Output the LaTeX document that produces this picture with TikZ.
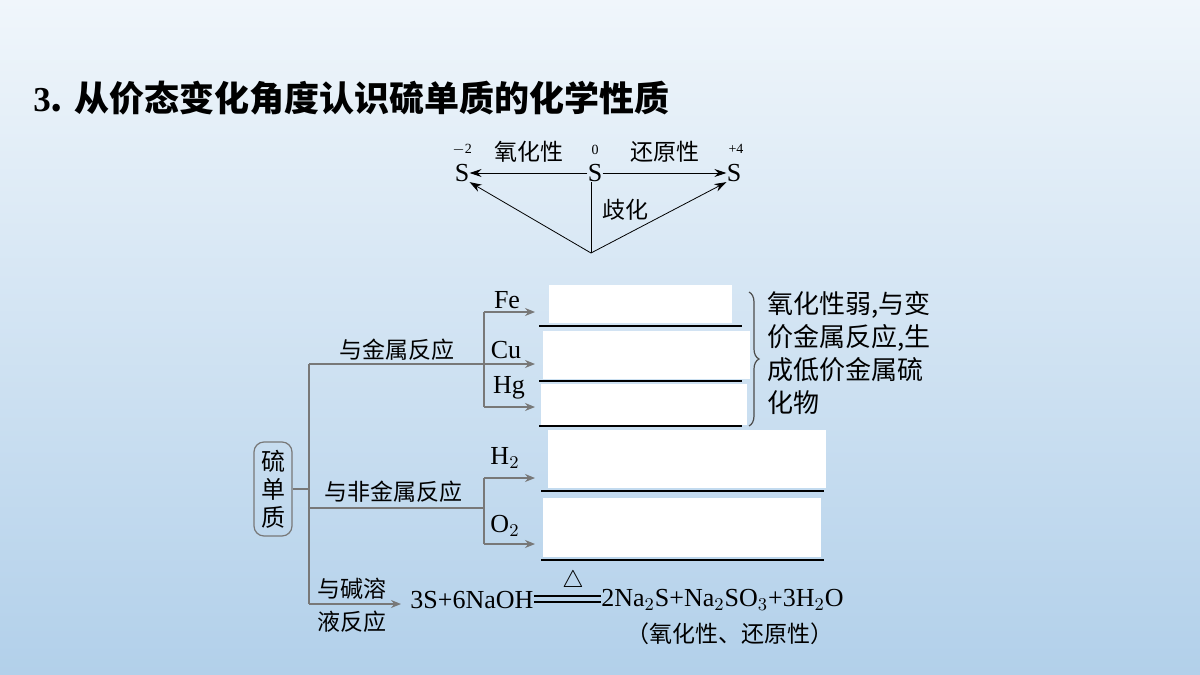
\documentclass[tikz,border=0pt]{standalone}
\usepackage{fontspec}
\setmainfont{Liberation Serif}
\newfontfamily\cjk{Noto Sans CJK SC}
\usetikzlibrary{arrows.meta,decorations.pathreplacing}
\definecolor{treegray}{RGB}{120,120,120}
\definecolor{bgtop}{RGB}{240,246,251}
\definecolor{bgbot}{RGB}{178,208,234}
\tikzset{
  zh/.style={font=\cjk\fontsize{11.5}{13}\selectfont, inner sep=0pt},
  chem/.style={font=\fontsize{13}{15}\selectfont, inner sep=0pt},
  tree/.style={draw=treegray, line width=0.6pt},
  treearrow/.style={tree, -{Stealth[length=5pt,width=4pt]}},
  blank/.style={fill=white, draw=none},
  answerline/.style={line width=0.7pt}
}
\begin{document}
\begin{tikzpicture}[x=0.5pt, y=-0.5pt]
			\shade[top color=bgtop, bottom color=bgbot] (0,0) rectangle (1200,675);
			\useasboundingbox (0,0) rectangle (1200,675);
			% Title
			\node[anchor=west, inner sep=0pt, font=\cjk\bfseries\fontsize{17.5}{19}\selectfont] (title) at (33,98) {{\rmfamily 3}.\,\,从价态变化角度认识硫单质的化学性质};

			% Valence triangle
			\node[chem] (sm) at (462,173) {S};
			\node[chem] (s0) at (595,173) {S};
			\node[chem] (sp) at (734,173) {S};
			\node[font=\fontsize{7}{8}\selectfont] at (462,150) {$-$2};
			\node[font=\fontsize{7}{8}\selectfont] at (595,150) {0};
			\node[font=\fontsize{7}{8}\selectfont] at (736,149) {+4};
			\coordinate (vtx) at (591,253);
			\draw[-{Stealth[length=6pt,width=4pt]}] (s0) -- (sm) node[zh, midway, above=5pt] {氧化性};
			\draw[-{Stealth[length=6pt,width=4pt]}] (s0) -- (sp) node[zh, midway, above=5pt] {还原性};
			\draw (s0.south -| vtx) -- (vtx);
			\draw[-{Stealth[length=6pt,width=4pt]}] (vtx) -- (sm.south east);
			\draw[-{Stealth[length=6pt,width=4pt]}] (vtx) -- (sp.south west);
			\node[zh] (qh) at (625,210) {歧化};

			% Root box
			\node[draw=treegray, rounded corners=5pt, line width=0.6pt, minimum width=19pt, minimum height=47pt, inner sep=1pt, font=\cjk\fontsize{12}{14}\selectfont, align=center] (root) at (273,489) {硫\\单\\质};

			% Tree coordinates
			\coordinate (stem) at (309,489);
			\coordinate (top) at (309,364);
			\coordinate (bot) at (309,604);
			\coordinate (mid) at (309,508);
			\coordinate (ka) at (484,312);
			\coordinate (kb) at (484,407);
			\coordinate (na) at (484,478);
			\coordinate (nb) at (484,544);
			\coordinate (fe) at (535,312);
			\coordinate (cu) at (535,364);
			\coordinate (hg) at (535,407);
			\coordinate (h2) at (535,478);
			\coordinate (o2) at (535,544);
			\coordinate (eq) at (401,604);

			\draw[tree] (root) -- (stem);
			\draw[tree] (top) -- (bot);
			\draw[treearrow] (top) -- (cu);
			\draw[tree] (ka) -- (kb);
			\draw[treearrow] (ka) -- (fe);
			\draw[treearrow] (kb) -- (hg);
			\draw[tree] (mid) -- (na |- mid);
			\draw[tree] (na) -- (nb);
			\draw[treearrow] (na) -- (h2);
			\draw[treearrow] (nb) -- (o2);
			\draw[treearrow] (bot) -- (eq);

			% Branch labels
			\node[zh] at (397,350) {与金属反应};
			\node[zh] at (393,492) {与非金属反应};
			\node[zh] at (352,589) {与碱溶};
			\node[zh] at (352,622) {液反应};
			\node[chem] at (507,300) {Fe};
			\node[chem] at (506,350) {Cu};
			\node[chem] at (509,388) {Hg};
			\node[chem] at (505,458) {H$_2$};
			\node[chem] at (505,526) {O$_2$};

			% Answer blanks
			\fill[blank] (549,285) rectangle (732,323);
			\fill[blank] (543,331) rectangle (750,379);
			\fill[blank] (541,384) rectangle (747,425);
			\fill[blank] (548,430) rectangle (826,488);
			\fill[blank] (543,498) rectangle (821,557);
			\foreach \y in {326,381,426}
			\draw[answerline] (539,\y) -- (742,\y);
			\foreach \y in {491,560}
			\draw[answerline] (541,\y) -- (824,\y);

			% Brace and note
			\draw[black!70, line width=0.6pt, decorate, decoration={brace, amplitude=5pt}] (749,292) -- (749,426);
			\node[zh, anchor=north west, align=left, font=\cjk\fontsize{13}{16.5}\selectfont] at (767,291) {氧化性弱,与变\\价金属反应,生\\成低价金属硫\\化物};

			% Equation
			\node[chem, anchor=west] (lhs) at (410,600) {3S+6NaOH};
			\node[chem, anchor=west] (rhs) at (601,600) {2Na$_2$S+Na$_2$SO$_3$+3H$_2$O};
			\draw[line width=0.6pt] ([yshift=2pt]lhs.east) -- ([yshift=2pt]rhs.west);
			\draw[line width=0.6pt] ([yshift=-1pt]lhs.east) -- ([yshift=-1pt]rhs.west);
			\node[font=\fontsize{13}{14}\selectfont, inner sep=0pt] at (573,581) {$\triangle$};
			\node[zh] at (730,634) {（氧化性、还原性）};
		\end{tikzpicture}
\end{document}
